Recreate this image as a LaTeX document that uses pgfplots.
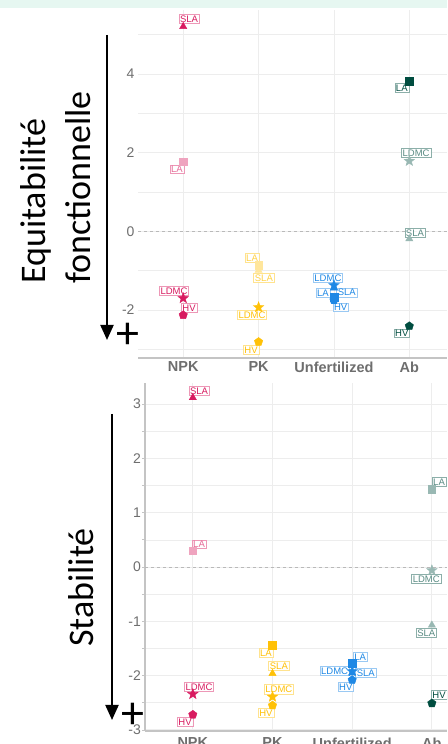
\documentclass[border=0pt]{standalone}
\usepackage{pgfplots}
\pgfplotsset{compat=1.18}
\usepackage{fontspec}
\setmainfont{Liberation Sans}
\newfontfamily\calib{Carlito}
\usetikzlibrary{arrows.meta,plotmarks}
\definecolor{cNPK}{HTML}{D81B60}
\definecolor{cPK}{HTML}{FFC107}
\definecolor{cUN}{HTML}{1E88E5}
\definecolor{cAB}{HTML}{004D40}
\definecolor{mint}{HTML}{E6F7F1}
\definecolor{gridc}{HTML}{EDEDED}
\definecolor{axc}{HTML}{C4C4C4}
\definecolor{tickc}{HTML}{6E6E6E}

\pgfdeclareplotmark{fstar}{%
 \pgfpathmoveto{\pgfpointpolar{90}{1.2\pgfplotmarksize}}%
 \pgfpathlineto{\pgfpointpolar{126}{0.5\pgfplotmarksize}}%
 \pgfpathlineto{\pgfpointpolar{162}{1.2\pgfplotmarksize}}%
 \pgfpathlineto{\pgfpointpolar{198}{0.5\pgfplotmarksize}}%
 \pgfpathlineto{\pgfpointpolar{234}{1.2\pgfplotmarksize}}%
 \pgfpathlineto{\pgfpointpolar{270}{0.5\pgfplotmarksize}}%
 \pgfpathlineto{\pgfpointpolar{306}{1.2\pgfplotmarksize}}%
 \pgfpathlineto{\pgfpointpolar{342}{0.5\pgfplotmarksize}}%
 \pgfpathlineto{\pgfpointpolar{18}{1.2\pgfplotmarksize}}%
 \pgfpathlineto{\pgfpointpolar{54}{0.5\pgfplotmarksize}}%
 \pgfpathclose\pgfusepathqfillstroke}

% marks: LA square, SLA triangle, LDMC star, HV pentagon
\newcommand{\pLA}[3]{\addplot[only marks, mark=square*, mark size=3.8pt, color=#1] coordinates {(#2,#3)};}
\newcommand{\pSLA}[3]{\addplot[only marks, mark=triangle*, mark size=4.2pt, color=#1] coordinates {(#2,#3)};}
\newcommand{\pLDMC}[3]{\addplot[only marks, mark=fstar, mark size=4.6pt, color=#1] coordinates {(#2,#3)};}
\newcommand{\pHV}[3]{\addplot[only marks, mark=pentagon*, mark size=4.4pt, color=#1] coordinates {(#2,#3)};}
\newcommand{\lab}[5]{\node[draw=#1!45, fill=white, fill opacity=0.85, text opacity=1, text=#2, font=\fontsize{9.5}{9.5}\selectfont, inner sep=1.2pt, line width=0.5pt] at (axis cs:#3,#4) {#5};}

\pgfplotsset{
  common/.style={
    scale only axis, anchor=south west,
    xtick={1,2,3,4}, xticklabels={NPK,PK,Unfertilized,Ab},
    xticklabel style={font=\bfseries\fontsize{14.5}{14.5}\selectfont, text=tickc},
    yticklabel style={font=\fontsize{14}{14}\selectfont, text=tickc},
    xmajorgrids, ymajorgrids, yminorgrids,
    major grid style={draw=gridc, line width=0.9pt},
    minor grid style={draw=gridc, line width=0.6pt},
    axis x line*=bottom, axis y line*=left,
    x axis line style={draw=axc, line width=1.2pt, -},
    y axis line style={draw=axc, line width=1.6pt, -},
    xtick style={draw=none},
    clip=false,
  }
}

\begin{document}
\begin{tikzpicture}
\path[use as bounding box] (0pt,0pt) rectangle (447pt,744pt);
\clip (0pt,0pt) rectangle (447pt,744pt);
\fill[mint] (0pt,736pt) rectangle (447pt,744pt);

% ---------------- top panel ----------------
\begin{axis}[common,
  at={(138pt,386pt)}, width=309pt, height=348pt,
  xmin=0.4, xmax=4.5, ymin=-3.22, ymax=5.63,
  ytick={-2,0,2,4}, yticklabels={-2,0,2,4},
  minor ytick={-3,-1,1,3,5},
  y axis line style={draw=none},
  ytick style={draw=none}, major tick length=0pt,
]
\addplot[dashed, draw=gray!55, line width=0.6pt] coordinates {(0.4,0) (4.5,0)};
% NPK
\pLA{cNPK!40}{1}{1.77}
\pSLA{cNPK}{1}{5.21}
\pLDMC{cNPK}{1}{-1.70}
\pHV{cNPK}{1}{-2.13}
% PK
\pLA{cPK!40}{2}{-0.86}
\pSLA{cPK!40}{2}{-0.99}
\pLDMC{cPK}{2}{-1.93}
\pHV{cPK}{2}{-2.81}
% Unfertilized
\pLDMC{cUN}{3}{-1.37}
\pSLA{cUN}{3}{-1.44}
\pLA{cUN}{3}{-1.67}
\pHV{cUN}{3}{-1.75}
% Ab
\pLA{cAB}{4}{3.82}
\pLDMC{cAB!40}{4}{1.79}
\pSLA{cAB!40}{4}{-0.19}
\pHV{cAB}{4}{-2.41}
% labels
\lab{cNPK}{cNPK}{1.077}{5.40}{SLA}
\lab{cNPK}{cNPK!65}{0.917}{1.58}{LA}
\lab{cNPK}{cNPK}{0.878}{-1.52}{LDMC}
\lab{cNPK}{cNPK}{1.077}{-1.95}{HV}
\lab{cPK}{cPK!75}{1.913}{-0.68}{LA}
\lab{cPK}{cPK!75}{2.07}{-1.19}{SLA}
\lab{cPK}{cPK}{1.913}{-2.13}{LDMC}
\lab{cPK}{cPK}{1.90}{-3.02}{HV}
\lab{cUN}{cUN}{2.92}{-1.19}{LDMC}
\lab{cUN}{cUN}{2.855}{-1.57}{LA}
\lab{cUN}{cUN}{3.17}{-1.55}{SLA}
\lab{cUN}{cUN}{3.09}{-1.93}{HV}
\lab{cAB}{cAB}{3.90}{3.65}{LA}
\lab{cAB}{cAB!65}{4.09}{1.99}{LDMC}
\lab{cAB}{cAB!65}{4.075}{-0.04}{SLA}
\lab{cAB}{cAB}{3.90}{-2.59}{HV}
\end{axis}

% ---------------- bottom panel ----------------
\begin{axis}[common,
  at={(145pt,13pt)}, width=302pt, height=348pt,
  xmin=0.4, xmax=4.19, ymin=-3.02, ymax=3.39,
  ytick={-3,-2,-1,0,1,2,3}, yticklabels={-3,-2,-1,0,1,2,3},
  minor ytick={-2.5,-1.5,-0.5,0.5,1.5,2.5},
  ytick style={draw=axc, line width=0.8pt}, major tick length=3pt, tick align=outside,
  yticklabel style={inner sep=1pt},
]
\addplot[dashed, draw=gray!55, line width=0.6pt] coordinates {(0.4,0) (4.19,0)};
% NPK
\pLA{cNPK!40}{1}{0.30}
\pSLA{cNPK}{1}{3.12}
\pLDMC{cNPK}{1}{-2.34}
\pHV{cNPK}{1}{-2.72}
% PK
\pLA{cPK}{2}{-1.44}
\pSLA{cPK}{2}{-1.96}
\pLDMC{cPK}{2}{-2.39}
\pHV{cPK}{2}{-2.55}
% Unfertilized
\pLDMC{cUN}{3}{-1.92}
\pSLA{cUN}{3}{-1.95}
\pHV{cUN}{3}{-2.08}
\pLA{cUN}{3}{-1.77}
% Ab
\pLA{cAB!40}{4}{1.43}
\pLDMC{cAB!40}{4}{-0.06}
\pSLA{cAB!40}{4}{-1.07}
\pHV{cAB}{4}{-2.51}
% labels
\lab{cNPK}{cNPK}{1.078}{3.24}{SLA}
\lab{cNPK}{cNPK!65}{1.078}{0.42}{LA}
\lab{cNPK}{cNPK}{1.078}{-2.21}{LDMC}
\lab{cNPK}{cNPK}{0.902}{-2.85}{HV}
\lab{cPK}{cPK}{1.918}{-1.58}{LA}
\lab{cPK}{cPK}{2.08}{-1.82}{SLA}
\lab{cPK}{cPK}{2.08}{-2.25}{LDMC}
\lab{cPK}{cPK}{1.918}{-2.69}{HV}
\lab{cUN}{cUN}{3.10}{-1.66}{LA}
\lab{cUN}{cUN}{2.78}{-1.91}{LDMC}
\lab{cUN}{cUN}{3.17}{-1.95}{SLA}
\lab{cUN}{cUN}{2.92}{-2.21}{HV}
\lab{cAB}{cAB!65}{4.09}{1.57}{LA}
\lab{cAB}{cAB!65}{3.93}{-0.22}{LDMC}
\lab{cAB}{cAB!65}{3.93}{-1.21}{SLA}
\lab{cAB}{cAB}{4.09}{-2.36}{HV}
\end{axis}

% ---------------- titles and arrows ----------------
\node[rotate=90, anchor=base west, font=\calib\fontsize{36}{36}\selectfont, inner sep=0pt] at (45pt,460pt) {Equitabilité};
\node[rotate=90, anchor=base west, font=\calib\fontsize{36}{36}\selectfont, inner sep=0pt] at (90pt,460pt) {fonctionnelle};
\node[rotate=90, anchor=base west, font=\calib\fontsize{36}{36}\selectfont, inner sep=0pt] at (93pt,97pt) {Stabilité};
\draw[line width=2pt, -{Triangle[length=15pt, width=13pt]}] (107pt,709pt) -- (107pt,404pt);
\draw[line width=2pt, -{Triangle[length=15pt, width=13pt]}] (112pt,330pt) -- (112pt,24pt);
\node[font=\calib\fontsize{46}{46}\selectfont, inner sep=0pt] at (128pt,408pt) {+};
\node[font=\calib\fontsize{46}{46}\selectfont, inner sep=0pt] at (132.5pt,28pt) {+};
\end{tikzpicture}
\end{document}
